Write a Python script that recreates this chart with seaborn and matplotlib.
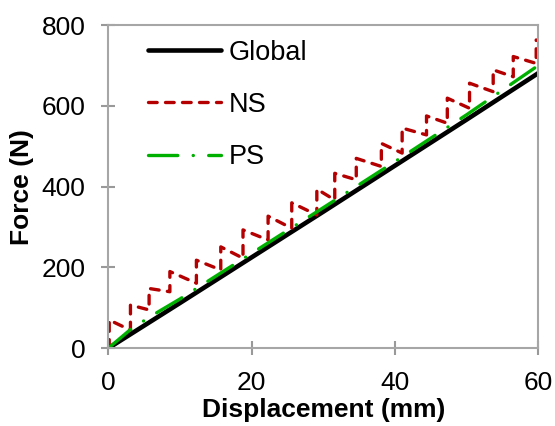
import matplotlib
matplotlib.use("Agg")
import matplotlib.pyplot as plt
import seaborn as sns
import pandas as pd

# ---- data ----
global_x = [0, 10, 20, 30, 40, 50, 60]
global_y = [0, 112, 225, 338, 452, 566, 681]

ps_x = [0, 3, 6, 10, 20, 30, 40, 50, 60]
ps_y = [0, 45, 80, 122, 235, 348, 462, 578, 700]

ns_jump_x = [0.14, 3.1, 5.7, 8.6, 12.3, 15.7, 18.8, 22.3, 25.6, 29.1,
             31.6, 34.6, 38.1, 41.0, 44.4, 47.3, 50.4, 53.7, 56.5, 59.7]
ns_trough = [0, 45, 95, 140, 161, 194, 223, 268, 297, 330,
             367, 417, 450, 483, 528, 557, 594, 635, 672, 705]
ns_peak = [70, 107, 148, 190, 218, 251, 293, 327, 360, 394,
           433, 470, 507, 545, 575, 619, 656, 689, 722, 763]

x_ticks = [0, 20, 40, 60]
y_ticks = [0, 200, 400, 600, 800]

# build NS sawtooth path
ns_x, ns_y = [], []
for xj, lo, hi in zip(ns_jump_x, ns_trough, ns_peak):
    ns_x += [xj, xj]
    ns_y += [lo, hi]

sns.set_theme(style="white")
plt.rcParams['font.family'] = ['Liberation Sans', 'DejaVu Sans']
plt.rcParams['text.color'] = 'black'
plt.rcParams['axes.labelcolor'] = 'black'

fig = plt.figure(figsize=(5.55, 4.26), dpi=100)
ax = fig.add_axes([0.195, 0.1824, 0.775, 0.7589])

sns.lineplot(x=global_x, y=global_y, ax=ax, color='black', lw=3.3,
             label='Global', sort=False, estimator=None)
sns.lineplot(x=ns_x, y=ns_y, ax=ax, color='#B40000', lw=2.4,
             label='NS', sort=False, estimator=None, dashes=False)
sns.lineplot(x=ps_x, y=ps_y, ax=ax, color='#00B000', lw=2.4,
             label='PS', sort=False, estimator=None, dashes=False)

lines = ax.get_lines()
lines[0].set_solid_capstyle('round')
lines[1].set_dashes([2.6, 2.5])
lines[1].set_dash_capstyle('round')
lines[2].set_dashes([8.8, 4.6, 0.05, 4.6])
lines[2].set_dash_capstyle('round')

ax.set_xlim(0, 60)
ax.set_ylim(0, 800)
ax.set_xticks(x_ticks)
ax.set_yticks(y_ticks)
ax.tick_params(axis='both', direction='inout', length=10, width=1.5,
               color='#999999', labelsize=19, pad=11.5, labelcolor='black',
               bottom=True, left=True, top=False, right=False)
for s in ax.spines.values():
    s.set_color('#A6A6A6')
    s.set_linewidth(1.5)

ax.set_xlabel('Displacement (mm)', fontsize=19, fontweight='bold', labelpad=2)
ax.set_ylabel('Force (N)', fontsize=19, fontweight='bold', labelpad=5)

handles, labels = ax.get_legend_handles_labels()
leg = ax.legend(handles, labels, loc='upper left', bbox_to_anchor=(0.092, 0.955),
                frameon=False, fontsize=19.5, handlelength=2.7, handletextpad=0.3,
                labelspacing=0.97, borderpad=0, borderaxespad=0)
for h in leg.get_lines():
    h.set_dash_capstyle('round')
    h.set_solid_capstyle('round')

fig.savefig('out.png', dpi=100)
